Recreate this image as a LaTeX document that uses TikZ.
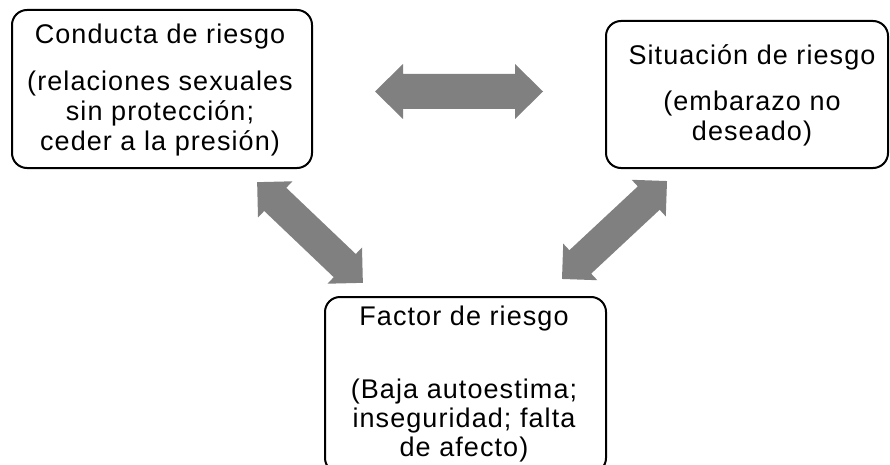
\documentclass[tikz,border=0pt]{standalone}
\usepackage{fontspec}
\setmainfont{Liberation Sans}[LetterSpace=4]
\newcommand{\blockarrow}[4]{%
  \begin{scope}[shift={(#1,#2)}, rotate=#3]
    \fill[arrowfill] (-#4/2,0) -- (-#4/2+\ahl,\ahw) -- (-#4/2+\ahl,\asw) -- (#4/2-\ahl,\asw) -- (#4/2-\ahl,\ahw) -- (#4/2,0)
      -- (#4/2-\ahl,-\ahw) -- (#4/2-\ahl,-\asw) -- (-#4/2+\ahl,-\asw) -- (-#4/2+\ahl,-\ahw) -- cycle;
  \end{scope}}
\begin{document}
\begin{tikzpicture}[x=1pt,y=-1pt,
  box/.style={draw=black, line width=2pt, rounded corners=15pt, fill=white, inner sep=0pt},
  txt/.style={align=center, inner sep=0pt, font=\fontsize{27}{30}\selectfont},
  arrowfill/.style={fill=black!50}]
\useasboundingbox (0,0) rectangle (890,465);
\begin{scope}
\clip (0,0) rectangle (890,465);
\node[box, minimum width=300pt, minimum height=158pt] (conducta) at (162,89) {};
\node[box, minimum width=282pt, minimum height=147pt] (situacion) at (747,94.5) {};
\node[box, minimum width=281pt, minimum height=176pt] (factor) at (465.5,385) {};
\end{scope}
\node[txt] (t1) at (160,37) {Conducta de riesgo};
\node[txt] (b1) at (160,114) {(relaciones sexuales\\sin protección;\\ceder a la presión)};
\node[txt] (t2) at (752,57) {Situación de riesgo};
\node[txt] (b2) at (752,119) {(embarazo no\\deseado)};
\node[txt] (t3) at (464,319) {Factor de riesgo};
\node[txt, font=\fontsize{27}{29}\selectfont] (b3) at (464,421) {(Baja autoestima;\\inseguridad; falta\\de afecto)};
\def\ahl{28}\def\ahw{27.5}\def\asw{17.5}
\blockarrow{459}{91.5}{0}{168}
\def\ahl{25}\def\ahw{25}\def\asw{16}
\blockarrow{310}{232.5}{-43.6}{146}
\blockarrow{614.5}{230}{43}{143.6}
\end{tikzpicture}
\end{document}
